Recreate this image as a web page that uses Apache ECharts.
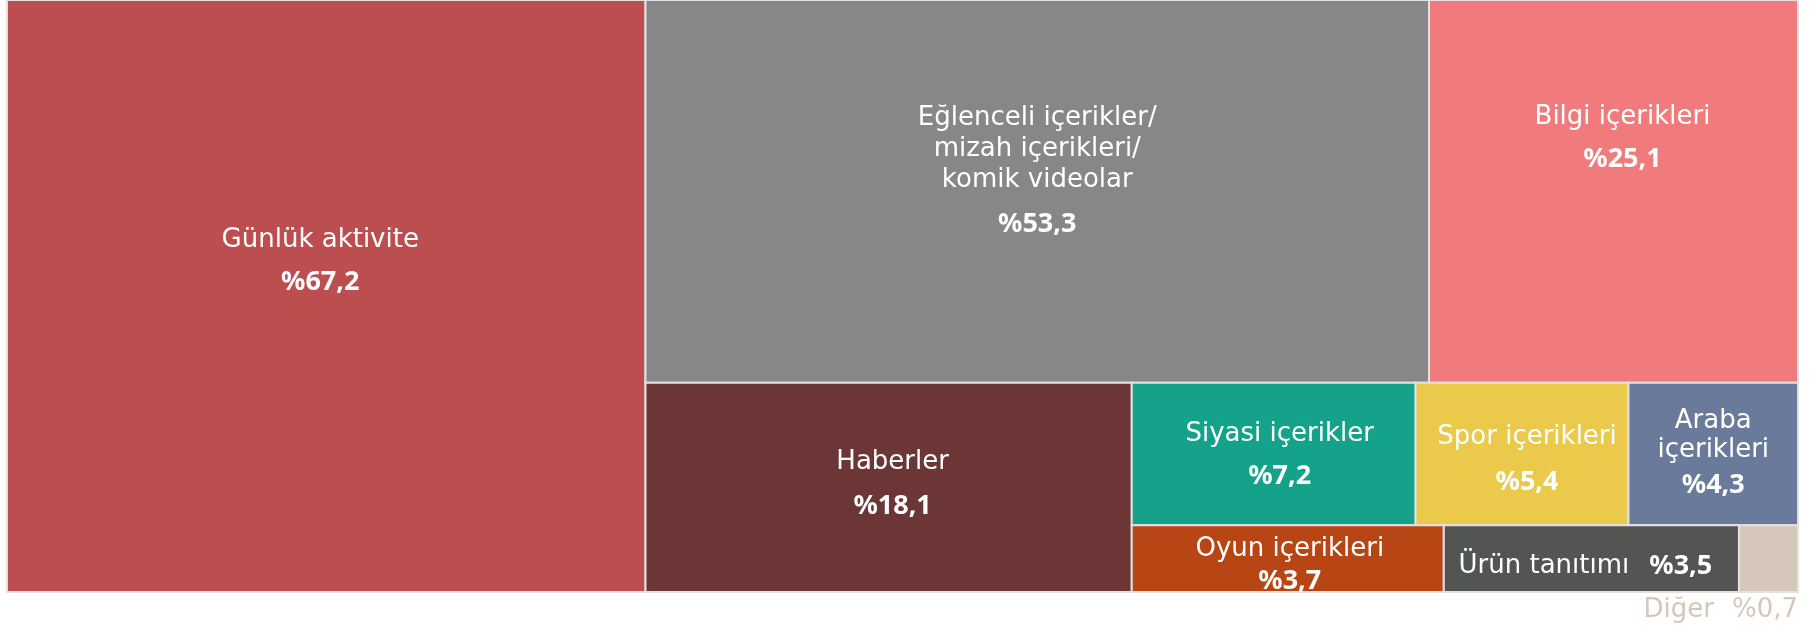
<!DOCTYPE html>
<html>
<head>
<meta charset="utf-8">
<script src="https://cdn.jsdelivr.net/npm/echarts@6/dist/echarts.min.js"></script>
<style>
html,body{margin:0;padding:0;background:#fff;}
#chart{width:1818px;height:629px;}
</style>
</head>
<body>
<div id="chart"></div>
<script>
// ---- data ----
const categories = [
  'Günlük aktivite',
  'Eğlenceli içerikler/\nmizah içerikleri/\nkomik videolar',
  'Bilgi içerikleri',
  'Haberler',
  'Siyasi içerikler',
  'Spor içerikleri',
  'Araba\niçerikleri',
  'Oyun içerikleri',
  'Ürün tanıtımı',
  'Diğer'
];
const values = [67.2, 53.3, 25.1, 18.1, 7.2, 5.4, 4.3, 3.7, 3.5, 0.7];
const percentLabels = ['%67,2', '%53,3', '%25,1', '%18,1', '%7,2', '%5,4', '%4,3', '%3,7', '%3,5', '%0,7'];

// ---- styles ----
const colors = ['#bc4e50', '#878789', '#f17a7c', '#6c3637', '#14a38a', '#ebc94a', '#6a7a9b', '#b84514', '#535553', '#d5c8bb'];
// label placement: [name block centre, percent centre] in px from cell top, x shift, mode
const labelPlace = [
  [240, 282, -6, 'stack'], [149, 224, 0, 'stack'], [117, 159, 9, 'stack'], [80, 124, 4, 'stack'],
  [52, 94, 6, 'stack'], [55, 100, 5, 'stack'], [53, 103, 0, 'stack'], [24, 56, 2, 'stack'],
  [41, 0, -6, 'inline'], [18, 0, 0, 'below']
];
const lineHeights = [30, 31, 30, 30, 30, 30, 29, 30, 30, 30];
// split structure of the chart (indices into categories)
const splitTree = {dir: 'row', items: [0, {dir: 'col', items: [
  {dir: 'row', items: [1, 2]},
  {dir: 'row', items: [3, {dir: 'col', items: [
    {dir: 'row', items: [4, 5, 6]},
    {dir: 'row', items: [7, 8, 9]}
  ]}]}
]}]};

function sumOf(node) {
  if (typeof node === 'number') return values[node];
  return node.items.reduce((s, c) => s + sumOf(c), 0);
}
const cells = [];
function layout(node, x0, y0, x1, y1) {
  if (typeof node === 'number') { cells.push([x0, y0, x1, y1, node]); return; }
  const total = sumOf(node);
  let pos = node.dir === 'row' ? x0 : y0;
  const span = node.dir === 'row' ? (x1 - x0) : (y1 - y0);
  node.items.forEach(c => {
    const len = span * sumOf(c) / total;
    if (node.dir === 'row') layout(c, pos, y0, pos + len, y1);
    else layout(c, x0, pos, x1, pos + len);
    pos += len;
  });
}
layout(splitTree, 0, 0, 1, 1);

const FONT = '"DejaVu Sans", sans-serif';
const FONT_B = '"Noto Sans", "Open Sans", sans-serif';
const FS = 26;
const FSB = 27;
const chart = echarts.init(document.getElementById('chart'));
chart.setOption({
  animation: false,
  grid: {left: 7, right: 20, top: 0, bottom: 37},
  xAxis: {type: 'value', min: 0, max: 1, show: false},
  yAxis: {type: 'value', min: 0, max: 1, inverse: true, show: false},
  series: [{
    type: 'custom',
    coordinateSystem: 'cartesian2d',
    data: cells,
    encode: {x: [0, 2], y: [1, 3]},
    renderItem: function (params, api) {
      const p0 = api.coord([api.value(0), api.value(1)]);
      const p1 = api.coord([api.value(2), api.value(3)]);
      const idx = api.value(4);
      const x = p0[0], y = p0[1], w = p1[0] - p0[0], h = p1[1] - p0[1];
      const place = labelPlace[idx];
      const cx = x + w / 2 + place[2];
      const children = [{
        type: 'rect',
        shape: {x: x, y: y, width: w, height: h},
        style: {fill: colors[idx], stroke: '#e2e2e2', lineWidth: 2}
      }];
      if (place[3] === 'stack') {
        children.push({
          type: 'text',
          style: {text: categories[idx], x: cx, y: y + place[0], align: 'center', verticalAlign: 'middle',
            fill: '#ffffff', fontSize: FS, fontFamily: FONT, fontWeight: 'normal', lineHeight: lineHeights[idx]}
        });
        children.push({
          type: 'text',
          style: {text: percentLabels[idx], x: cx, y: y + place[1], align: 'center', verticalAlign: 'middle',
            fill: '#ffffff', fontSize: FSB, fontFamily: FONT_B, fontWeight: 'bold'}
        });
      } else if (place[3] === 'inline') {
        children.push({
          type: 'text',
          style: {text: '{n|' + categories[idx] + '}{p|' + percentLabels[idx] + '}', x: cx, y: y + place[0],
            align: 'center', verticalAlign: 'middle', fill: '#ffffff', fontSize: FS, fontFamily: FONT,
            rich: {n: {fontSize: FS, fontFamily: FONT, fill: '#ffffff'},
                   p: {fontSize: FSB, fontFamily: FONT_B, fontWeight: 'bold', fill: '#ffffff', padding: [0, 0, 0, 20]}}}
        });
      } else {
        children.push({
          type: 'text',
          style: {text: '{n|' + categories[idx] + '}{p|' + percentLabels[idx] + '}', x: x + w, y: y + h + place[0],
            align: 'right', verticalAlign: 'middle', fill: colors[idx], fontSize: FS, fontFamily: FONT,
            rich: {n: {fontSize: FS, fontFamily: FONT, fill: colors[idx]},
                   p: {fontSize: FS, fontFamily: FONT, fill: colors[idx], padding: [0, 0, 0, 18]}}}
        });
      }
      return {type: 'group', children: children};
    }
  }]
});
</script>
</body>
</html>
